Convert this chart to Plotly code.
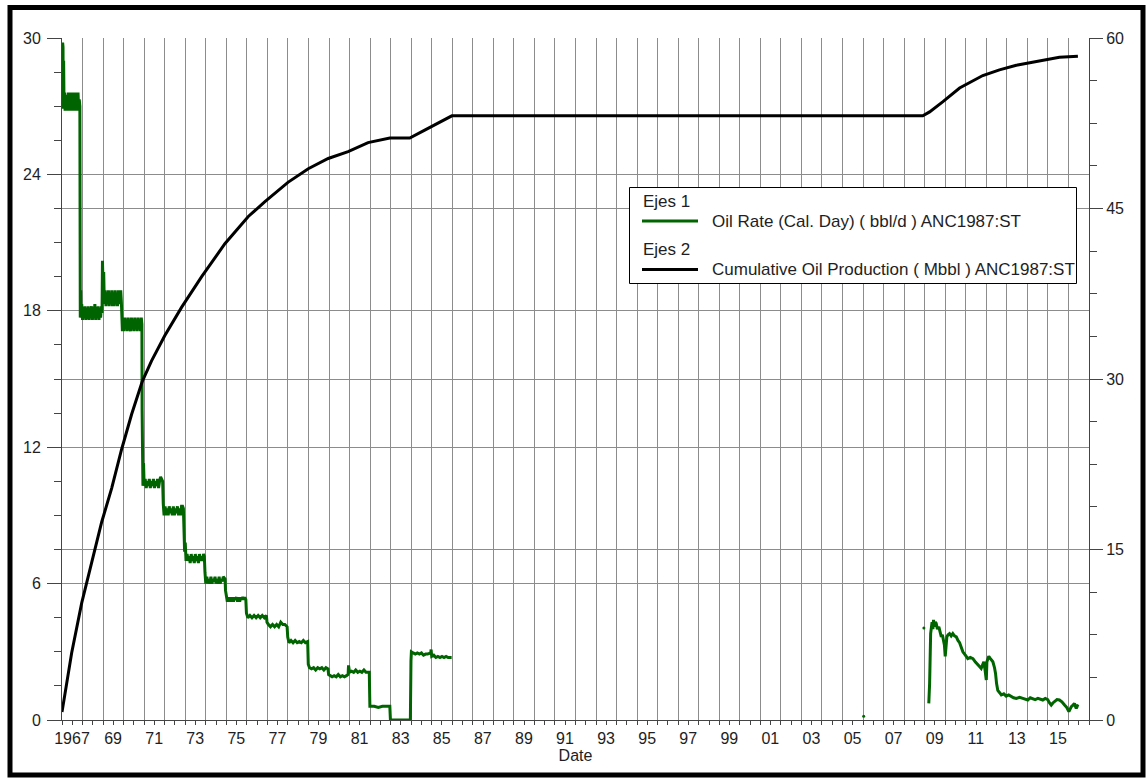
import plotly.graph_objects as go

FONT = "Liberation Sans, Arial, sans-serif"
GREEN = "#006400"
TXT = "#1e1e24"
GRID = "#8c8c8c"
AX = "#444444"

# ---------------- Oil rate (bbl/d), left axis ----------------
rate_years_a = [
    1967.00, 1967.01, 1967.02, 1967.03, 1967.05, 1967.06, 1967.08, 1967.10, 1967.12, 1967.15,
    1967.18, 1967.21, 1967.24, 1967.27, 1967.30, 1967.33, 1967.36, 1967.39, 1967.42, 1967.45,
    1967.48, 1967.51, 1967.54, 1967.57, 1967.60, 1967.63, 1967.66, 1967.69, 1967.72, 1967.75,
    1967.78, 1967.81, 1967.84, 1967.87, 1967.88, 1967.89,
    1967.91, 1967.93, 1967.96, 1968.00, 1968.04, 1968.08, 1968.12, 1968.16, 1968.20, 1968.24,
    1968.28, 1968.32, 1968.36, 1968.40, 1968.44, 1968.48, 1968.52, 1968.56, 1968.60, 1968.64,
    1968.68, 1968.72, 1968.76, 1968.80, 1968.84, 1968.88, 1968.92, 1968.95,
    1968.97, 1969.00, 1969.03, 1969.06, 1969.10, 1969.14, 1969.18, 1969.22, 1969.26, 1969.30,
    1969.34, 1969.38, 1969.42, 1969.46, 1969.50, 1969.54, 1969.58, 1969.62, 1969.66, 1969.70,
    1969.74, 1969.78, 1969.82, 1969.86, 1969.89,
    1969.91, 1969.94, 1969.98, 1970.02, 1970.06, 1970.10, 1970.14, 1970.18, 1970.22, 1970.26,
    1970.30, 1970.34, 1970.38, 1970.42, 1970.46, 1970.50, 1970.54, 1970.58, 1970.62, 1970.66,
    1970.70, 1970.74, 1970.78, 1970.82, 1970.86, 1970.89,
    1970.90, 1970.92, 1970.94,
]
rate_vals_a = [
    27.0, 28.4, 26.9, 29.8, 29.6, 27.3, 29.0, 26.9, 27.6, 26.8,
    27.5, 26.8, 27.3, 26.9, 27.6, 26.8, 27.2, 26.9, 27.6, 26.8,
    27.4, 26.9, 27.6, 26.8, 27.2, 26.9, 27.6, 26.8, 27.5, 26.8,
    27.6, 26.9, 27.3, 27.0, 22.3, 17.7,
    18.9, 17.7, 18.3, 17.6, 18.1, 17.7, 18.2, 17.6, 18.0, 17.7,
    18.2, 17.6, 18.1, 17.8, 18.2, 17.6, 18.0, 17.7, 18.3, 17.6,
    18.1, 17.7, 18.2, 17.6, 18.1, 17.7, 18.2, 17.9,
    20.2, 19.1, 19.7, 18.3, 18.9, 18.2, 18.8, 18.3, 18.9, 18.2,
    18.7, 18.3, 18.9, 18.2, 18.8, 18.2, 18.9, 18.3, 18.7, 18.2,
    18.9, 18.3, 18.8, 18.9, 18.4,
    17.7, 17.1, 17.6, 17.1, 17.7, 17.2, 17.6, 17.1, 17.7, 17.2,
    17.5, 17.1, 17.7, 17.2, 17.6, 17.1, 17.7, 17.2, 17.6, 17.1,
    17.7, 17.2, 17.6, 17.1, 17.7, 17.4,
    13.6, 11.5, 10.3,
]

rate_years_b = [
    1970.97, 1971.00, 1971.05, 1971.10, 1971.15, 1971.20, 1971.25, 1971.30, 1971.35, 1971.40,
    1971.45, 1971.50, 1971.55, 1971.60, 1971.65, 1971.70, 1971.75, 1971.80, 1971.85, 1971.90,
    1971.93, 1971.97, 1972.02, 1972.07, 1972.12, 1972.17, 1972.22, 1972.27, 1972.32, 1972.37,
    1972.42, 1972.47, 1972.52, 1972.57, 1972.62, 1972.67, 1972.72, 1972.77, 1972.82, 1972.87, 1972.91,
    1972.94, 1972.97, 1973.00, 1973.04, 1973.09, 1973.14, 1973.19, 1973.24, 1973.29, 1973.34,
    1973.39, 1973.44, 1973.49, 1973.54, 1973.59, 1973.64, 1973.69, 1973.74, 1973.79, 1973.84,
    1973.89, 1973.93,
    1973.96, 1974.00, 1974.05, 1974.10, 1974.15, 1974.20, 1974.25, 1974.30, 1974.35, 1974.40,
    1974.45, 1974.50, 1974.55, 1974.60, 1974.65, 1974.70, 1974.75, 1974.80, 1974.85, 1974.90, 1974.94,
    1974.96, 1975.00, 1975.05, 1975.10, 1975.15, 1975.20, 1975.25, 1975.30, 1975.35, 1975.40,
    1975.45, 1975.50, 1975.55, 1975.60, 1975.65, 1975.70, 1975.75, 1975.80, 1975.85, 1975.90, 1975.95,
]
rate_vals_b = [
    11.3, 10.3, 10.6, 10.2, 10.5, 10.3, 10.6, 10.2, 10.5, 10.3,
    10.6, 10.2, 10.5, 10.3, 10.6, 10.2, 10.5, 10.7, 10.6, 10.5,
    9.5, 9.0, 9.4, 9.0, 9.3, 9.0, 9.4, 9.1, 9.3, 9.0,
    9.4, 9.0, 9.3, 9.1, 9.4, 9.0, 9.3, 9.0, 9.4, 9.4, 9.3,
    7.9, 7.4, 7.8, 7.0, 7.3, 7.0, 7.2, 6.9, 7.3, 7.0,
    7.2, 6.9, 7.3, 7.0, 7.2, 6.9, 7.3, 7.0, 7.2, 7.0,
    7.3, 7.2,
    6.5, 6.0, 6.3, 6.0, 6.2, 6.0, 6.3, 6.0, 6.2, 6.1,
    6.3, 6.0, 6.2, 6.0, 6.3, 6.0, 6.2, 6.1, 6.3, 6.2, 6.2,
    5.7, 5.5, 5.2, 5.4, 5.2, 5.4, 5.2, 5.4, 5.2, 5.4,
    5.3, 5.4, 5.2, 5.4, 5.2, 5.4, 5.3, 5.4, 5.3, 5.4, 5.3,
]

rate_years_c = [
    1975.98, 1976.05, 1976.15, 1976.25, 1976.35, 1976.45, 1976.55, 1976.65, 1976.75, 1976.85, 1976.95,
    1976.98, 1977.05, 1977.15, 1977.25, 1977.35, 1977.45, 1977.55, 1977.65, 1977.75, 1977.85, 1977.96,
    1977.99, 1978.05, 1978.15, 1978.25, 1978.35, 1978.45, 1978.55, 1978.65, 1978.75, 1978.85, 1978.96,
    1978.99, 1979.05, 1979.15, 1979.25, 1979.35, 1979.45, 1979.55, 1979.65, 1979.75, 1979.85, 1979.95,
    1979.98, 1980.05, 1980.15, 1980.25, 1980.35, 1980.45, 1980.55, 1980.65, 1980.75, 1980.85, 1980.93,
    1980.95, 1981.00, 1981.10, 1981.20, 1981.30, 1981.40, 1981.50, 1981.60, 1981.70, 1981.80, 1981.96,
    1981.99, 1982.20, 1982.40, 1982.60, 1982.80, 1982.96,
    1982.99, 1983.30, 1983.60, 1983.96,
    1983.99, 1984.01, 1984.10, 1984.20, 1984.30, 1984.40, 1984.50, 1984.60, 1984.70, 1984.80, 1984.95,
    1984.97, 1985.00, 1985.10, 1985.20, 1985.30, 1985.40, 1985.50, 1985.60, 1985.70, 1985.80, 1985.97,
]
rate_vals_c = [
    4.7, 4.5, 4.6, 4.5, 4.6, 4.5, 4.6, 4.5, 4.6, 4.5, 4.6,
    4.3, 4.2, 4.1, 4.2, 4.1, 4.2, 4.1, 4.3, 4.2, 4.2, 4.1,
    3.65, 3.4, 3.5, 3.4, 3.5, 3.4, 3.45, 3.4, 3.5, 3.4, 3.45,
    2.45, 2.3, 2.25, 2.3, 2.2, 2.3, 2.25, 2.3, 2.2, 2.3, 2.25,
    2.0, 1.95, 1.9, 1.95, 1.9, 2.0, 1.9, 1.95, 1.9, 1.95, 2.0,
    2.4, 2.1, 2.15, 2.1, 2.2, 2.1, 2.15, 2.1, 2.2, 2.1, 2.1,
    0.6, 0.6, 0.55, 0.6, 0.6, 0.6,
    0.0, 0.0, 0.0, 0.0,
    2.6, 3.0, 2.95, 2.9, 2.95, 2.9, 2.95, 2.85, 2.9, 2.9, 2.95,
    3.1, 2.8, 2.85, 2.75, 2.8, 2.75, 2.8, 2.75, 2.8, 2.75, 2.75,
]

rate_years_d = [
    2009.20, 2009.24, 2009.29, 2009.33, 2009.36, 2009.40, 2009.43, 2009.47, 2009.52, 2009.56,
    2009.62, 2009.69, 2009.75, 2009.81, 2009.86, 2009.92, 2009.96, 2010.00, 2010.04, 2010.08,
    2010.14, 2010.21, 2010.29, 2010.37, 2010.45, 2010.54, 2010.62, 2010.70, 2010.78, 2010.86,
    2010.98, 2011.10, 2011.22, 2011.35, 2011.47, 2011.59, 2011.67, 2011.75, 2011.82, 2011.88,
    2011.94, 2012.00, 2012.03, 2012.07, 2012.12, 2012.20, 2012.32, 2012.40, 2012.45, 2012.50,
    2012.56, 2012.65, 2012.73, 2012.85, 2012.97, 2013.09, 2013.21, 2013.33, 2013.46, 2013.62,
    2013.78, 2013.90, 2014.02, 2014.14, 2014.26, 2014.38, 2014.51, 2014.63, 2014.75, 2014.87,
    2014.99, 2015.08, 2015.16, 2015.24, 2015.32, 2015.44, 2015.56, 2015.68, 2015.81, 2015.92,
    2016.02, 2016.08, 2016.14, 2016.22, 2016.29, 2016.34, 2016.38, 2016.44, 2016.49,
]
rate_vals_d = [
    0.73, 1.6, 3.8, 4.1, 4.3, 4.0, 4.4, 4.1, 4.3, 4.25,
    4.0, 4.1, 3.8, 3.66, 3.75, 3.5, 3.3, 2.8, 3.4, 3.66,
    3.75, 3.8, 3.7, 3.8, 3.7, 3.66, 3.5, 3.4, 3.2, 3.0,
    2.85, 2.7, 2.75, 2.7, 2.55, 2.4, 2.35, 2.27, 2.4, 2.56,
    2.2, 1.76, 2.56, 2.7, 2.8, 2.7, 2.56, 2.3, 2.05, 1.6,
    1.3, 1.2, 1.1, 1.15, 1.05, 1.1, 1.03, 0.98, 0.95, 1.0,
    0.95, 0.9, 0.88, 0.98, 0.95, 0.9, 0.95, 0.9, 0.88, 0.95,
    0.9, 0.75, 0.66, 0.75, 0.8, 0.9, 0.88, 0.8, 0.66, 0.55,
    0.37, 0.5, 0.59, 0.65, 0.73, 0.6, 0.51, 0.62, 0.59,
]

# isolated single readings
dot_years = [2006.03, 2008.96]
dot_vals = [0.17, 4.05]

# ---------------- Cumulative oil (Mbbl), right axis ----------------
cum_years = [
    1967.00, 1967.47, 1967.96, 1968.45, 1968.93, 1969.42, 1969.90, 1970.39, 1970.91, 1971.36,
    1972.00, 1972.82, 1973.80, 1974.93, 1976.07, 1976.88, 1978.00, 1978.99, 1979.96, 1980.93,
    1981.90, 1982.96, 1983.93, 1984.66, 1985.98, 2008.91, 2009.24, 2009.89, 2010.70, 2011.83,
    2012.64, 2013.46, 2014.59, 2015.56, 2016.46,
]
cum_vals = [
    0.7, 5.9, 10.3, 14.0, 17.4, 20.4, 23.8, 26.9, 29.8, 31.6,
    33.8, 36.3, 39.0, 41.9, 44.3, 45.6, 47.3, 48.5, 49.4, 50.0,
    50.8, 51.2, 51.2, 51.9, 53.15, 53.15, 53.5, 54.4, 55.6, 56.7,
    57.2, 57.6, 58.0, 58.3, 58.4,
]

# ---------------- Axis / legend labels ----------------
x_tick_years = list(range(1967, 2018))
x_tick_labels = ["1967", "", "69", "", "71", "", "73", "", "75", "", "77", "", "79", "", "81", "",
                 "83", "", "85", "", "87", "", "89", "", "91", "", "93", "", "95", "", "97", "",
                 "99", "", "01", "", "03", "", "05", "", "07", "", "09", "", "11", "", "13", "",
                 "15", "", ""]

rate_name = "Oil Rate (Cal. Day) ( bbl/d ) ANC1987:ST"
cum_name = "Cumulative Oil Production ( Mbbl ) ANC1987:ST"
group_titles = ["Ejes 1", "Ejes 2"]

rate_x = rate_years_a + rate_years_b + rate_years_c + [None] + rate_years_d
rate_y = rate_vals_a + rate_vals_b + rate_vals_c + [None] + rate_vals_d

fig = go.Figure()
fig.add_trace(go.Scatter(
    x=rate_x, y=rate_y, mode="lines", name=rate_name,
    line=dict(color=GREEN, width=3), connectgaps=False, showlegend=False,
))
fig.add_trace(go.Scatter(
    x=dot_years, y=dot_vals, mode="markers", marker=dict(color=GREEN, size=3),
    showlegend=False,
))
fig.add_trace(go.Scatter(
    x=cum_years, y=cum_vals, mode="lines", name=cum_name, yaxis="y2",
    line=dict(color="black", width=3), showlegend=False,
))

W, H = 1148, 778
L, R, T, B = 62, 59, 38, 58
pw = W - L - R
ph = H - T - B


def px_x(x):
    return (x - L) / pw


def px_y(y):
    return (H - B - y) / ph


# legend box drawn by hand (box, sample lines, texts)
shapes = [
    dict(type="rect", xref="paper", yref="paper",
         x0=px_x(629.5), x1=px_x(1076.5), y0=px_y(283.5), y1=px_y(187.5),
         line=dict(color="black", width=1), fillcolor="white", layer="above"),
    dict(type="line", xref="paper", yref="paper",
         x0=px_x(642), x1=px_x(698), y0=px_y(221), y1=px_y(221),
         line=dict(color=GREEN, width=3), layer="above"),
    dict(type="line", xref="paper", yref="paper",
         x0=px_x(642), x1=px_x(698), y0=px_y(269.5), y1=px_y(269.5),
         line=dict(color="black", width=3), layer="above"),
    dict(type="rect", xref="paper", yref="paper",
         x0=px_x(10), x1=px_x(1143), y0=px_y(775), y1=px_y(7.5),
         line=dict(color="black", width=5), fillcolor="rgba(0,0,0,0)", layer="above"),
]

LEG_FONT = dict(family=FONT, size=17, color=TXT)
annotations = [
    dict(text=group_titles[0], xref="paper", yref="paper", x=px_x(641), y=px_y(201.5),
         xanchor="left", yanchor="middle", showarrow=False, font=LEG_FONT),
    dict(text=rate_name, xref="paper", yref="paper", x=px_x(710), y=px_y(221),
         xanchor="left", yanchor="middle", showarrow=False, font=LEG_FONT),
    dict(text=group_titles[1], xref="paper", yref="paper", x=px_x(641), y=px_y(249.5),
         xanchor="left", yanchor="middle", showarrow=False, font=LEG_FONT),
    dict(text=cum_name, xref="paper", yref="paper", x=px_x(710), y=px_y(269.5),
         xanchor="left", yanchor="middle", showarrow=False, font=LEG_FONT),
]

fig.update_layout(
    width=W, height=H,
    margin=dict(l=L, r=R, t=T, b=B, autoexpand=False),
    paper_bgcolor="white", plot_bgcolor="white",
    font=dict(family=FONT, size=16, color=TXT),
    showlegend=False,
    xaxis=dict(
        range=[1967, 2017], tickmode="linear", tick0=1967, dtick=1,
        labelalias={str(y): t for y, t in zip(x_tick_years, x_tick_labels)},
        ticklabelshift=10,
        ticks="outside", ticklen=4, tickcolor=AX,
        showgrid=True, gridcolor=GRID, gridwidth=1,
        showline=True, linecolor=AX, linewidth=1, zeroline=False,
        minor=dict(tick0=1967, dtick=0.5, ticks="outside", ticklen=4, tickcolor=AX, showgrid=False),
        tickfont=dict(family=FONT, size=16, color=TXT),
        title=dict(text="Date", font=dict(family=FONT, size=16, color=TXT), standoff=0),
        automargin=False,
    ),
    yaxis=dict(
        range=[0, 30], tickmode="linear", tick0=0, dtick=6,
        ticks="outside", ticklen=14, tickcolor=AX, ticklabelstandoff=3,
        showgrid=True, gridcolor=GRID, gridwidth=1,
        showline=True, linecolor=AX, linewidth=1, zeroline=False,
        minor=dict(dtick=1.5, ticks="outside", ticklen=7, tickcolor=AX, showgrid=False),
        tickfont=dict(family=FONT, size=16, color=TXT),
        automargin=False,
    ),
    yaxis2=dict(
        range=[0, 60], tickmode="linear", tick0=0, dtick=15, overlaying="y", side="right",
        ticks="outside", ticklen=13, tickcolor=AX,
        showgrid=True, gridcolor=GRID, gridwidth=1,
        showline=True, linecolor=AX, linewidth=1, zeroline=False,
        minor=dict(dtick=3.75, ticks="outside", ticklen=7, tickcolor=AX, showgrid=False),
        tickfont=dict(family=FONT, size=16, color=TXT),
        automargin=False,
    ),
    shapes=shapes,
    annotations=annotations,
)

fig.write_html("out.html", config={"displayModeBar": False},
               post_script="document.body.style.margin='0px';")
